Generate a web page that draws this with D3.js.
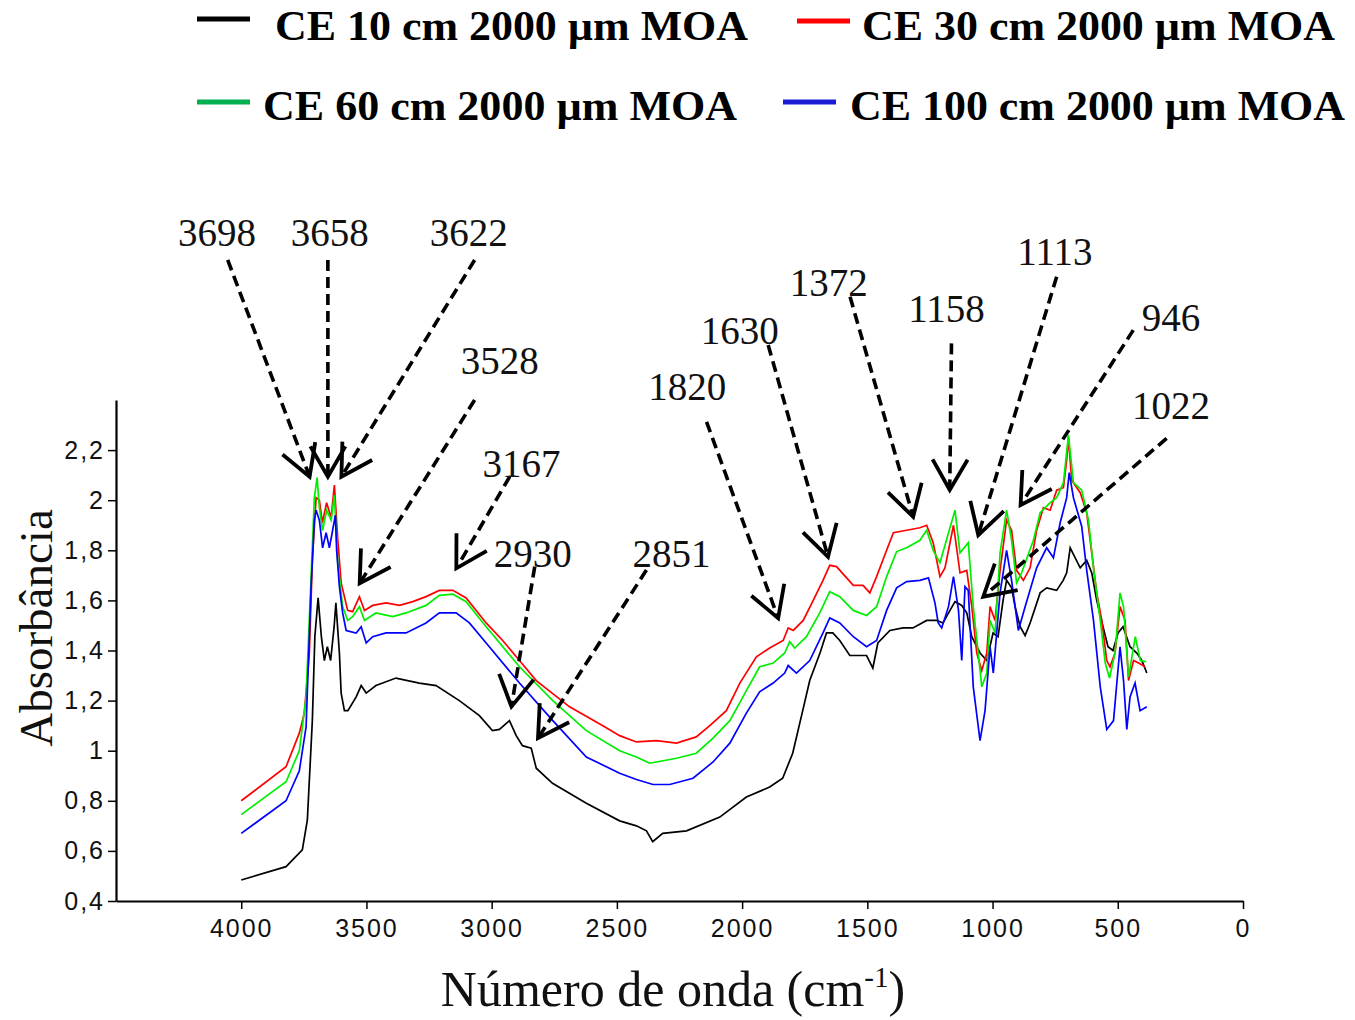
<!DOCTYPE html>
<html>
<head>
<meta charset="utf-8">
<script src="https://cdn.jsdelivr.net/npm/d3@7"></script>
<style>
  html, body { margin: 0; padding: 0; background: #fff; }
  svg { display: block; }
</style>
</head>
<body>
<svg id="chart" width="1355" height="1020"></svg>
<script>
// ---------------- DATA ----------------
const seriesNames = ["CE 10 cm 2000 µm MOA", "CE 30 cm 2000 µm MOA", "CE 60 cm 2000 µm MOA", "CE 100 cm 2000 µm MOA"];

// [wavenumber (cm-1), absorbance]
const ce10 = [[4000,0.484],[3821,0.537],[3756,0.604],[3736,0.723],[3716,1.12],[3706,1.455],[3693,1.61],[3680,1.455],[3668,1.36],[3656,1.415],[3643,1.36],[3629,1.495],[3622,1.59],[3608,1.39],[3601,1.23],[3588,1.16],[3574,1.16],[3541,1.215],[3521,1.26],[3501,1.23],[3462,1.26],[3382,1.29],[3289,1.27],[3222,1.26],[3129,1.20],[3049,1.14],[2997,1.08],[2969,1.085],[2929,1.12],[2902,1.06],[2877,1.02],[2842,1.01],[2822,0.93],[2757,0.87],[2622,0.79],[2489,0.72],[2422,0.70],[2382,0.68],[2357,0.637],[2317,0.67],[2222,0.68],[2089,0.735],[1983,0.815],[1890,0.855],[1838,0.89],[1798,0.99],[1758,1.16],[1730,1.28],[1689,1.39],[1663,1.47],[1638,1.47],[1610,1.44],[1570,1.38],[1503,1.38],[1478,1.33],[1458,1.43],[1410,1.48],[1358,1.49],[1318,1.49],[1263,1.52],[1223,1.52],[1198,1.51],[1170,1.56],[1150,1.595],[1123,1.58],[1103,1.55],[1083,1.455],[1063,1.415],[1050,1.39],[1023,1.36],[998,1.47],[978,1.455],[958,1.60],[944,1.68],[924,1.65],[910,1.575],[890,1.495],[870,1.46],[850,1.51],[810,1.63],[784,1.65],[744,1.64],[718,1.68],[704,1.71],[690,1.81],[670,1.77],[650,1.73],[624,1.76],[604,1.71],[584,1.60],[559,1.495],[539,1.415],[519,1.40],[499,1.47],[479,1.495],[451,1.415],[424,1.39],[404,1.36],[384,1.31]];

const ce30 = [[4000,0.80],[3821,0.936],[3768,1.07],[3748,1.15],[3728,1.39],[3716,1.76],[3701,2.01],[3688,2.00],[3676,1.91],[3659,1.99],[3641,1.93],[3628,2.06],[3615,1.85],[3601,1.67],[3575,1.56],[3555,1.555],[3528,1.615],[3508,1.56],[3475,1.58],[3422,1.59],[3368,1.58],[3315,1.595],[3262,1.615],[3209,1.64],[3155,1.64],[3102,1.61],[3022,1.51],[2956,1.44],[2889,1.36],[2822,1.28],[2689,1.175],[2556,1.10],[2489,1.06],[2422,1.035],[2342,1.04],[2262,1.03],[2183,1.055],[2129,1.10],[2063,1.16],[2009,1.27],[1943,1.375],[1890,1.41],[1836,1.44],[1816,1.49],[1796,1.48],[1756,1.52],[1716,1.60],[1677,1.68],[1650,1.74],[1623,1.735],[1556,1.66],[1517,1.66],[1490,1.63],[1463,1.695],[1423,1.80],[1396,1.87],[1343,1.88],[1290,1.89],[1263,1.90],[1237,1.83],[1210,1.695],[1190,1.73],[1156,1.90],[1130,1.71],[1103,1.72],[1083,1.575],[1063,1.39],[1043,1.32],[1023,1.39],[1010,1.575],[990,1.52],[970,1.72],[944,1.92],[924,1.88],[904,1.72],[877,1.68],[850,1.73],[824,1.88],[797,1.97],[770,1.96],[744,2.04],[717,2.05],[704,2.16],[697,2.25],[684,2.08],[650,2.03],[624,1.95],[604,1.79],[584,1.63],[564,1.52],[544,1.36],[531,1.335],[511,1.39],[491,1.575],[471,1.52],[457,1.28],[437,1.36],[417,1.35],[391,1.335]];

const ce60 = [[4000,0.745],[3821,0.876],[3768,1.00],[3741,1.215],[3721,1.695],[3708,2.01],[3697,2.09],[3688,1.97],[3675,1.88],[3659,1.96],[3641,1.92],[3628,2.02],[3615,1.76],[3595,1.575],[3575,1.52],[3555,1.535],[3528,1.575],[3508,1.52],[3462,1.55],[3395,1.535],[3342,1.55],[3262,1.58],[3209,1.62],[3155,1.625],[3102,1.595],[3022,1.495],[2889,1.335],[2756,1.20],[2622,1.08],[2489,1.00],[2422,0.975],[2369,0.95],[2262,0.97],[2183,0.99],[2116,1.05],[2049,1.12],[1983,1.24],[1930,1.335],[1876,1.35],[1830,1.39],[1810,1.435],[1790,1.41],[1743,1.455],[1690,1.55],[1650,1.635],[1610,1.615],[1556,1.56],[1503,1.54],[1463,1.575],[1423,1.695],[1383,1.795],[1343,1.81],[1290,1.84],[1263,1.88],[1237,1.80],[1210,1.75],[1150,1.96],[1130,1.79],[1097,1.83],[1077,1.575],[1043,1.255],[1023,1.31],[1010,1.52],[990,1.47],[970,1.79],[944,1.96],[924,1.84],[904,1.67],[884,1.71],[837,1.84],[810,1.95],[770,1.99],[744,2.01],[717,2.07],[697,2.26],[677,2.07],[644,2.04],[617,1.92],[597,1.73],[570,1.52],[550,1.35],[533,1.29],[511,1.39],[491,1.63],[477,1.575],[457,1.295],[430,1.455],[410,1.36],[386,1.355]];

const ce100 = [[4000,0.67],[3821,0.80],[3768,0.92],[3741,1.095],[3721,1.655],[3708,1.92],[3701,1.96],[3688,1.92],[3675,1.81],[3661,1.87],[3648,1.81],[3635,1.88],[3624,1.94],[3619,1.80],[3608,1.655],[3595,1.55],[3581,1.48],[3541,1.47],[3521,1.495],[3501,1.43],[3475,1.455],[3422,1.47],[3342,1.47],[3262,1.51],[3209,1.55],[3142,1.55],[3089,1.51],[3022,1.43],[2889,1.27],[2756,1.12],[2622,0.975],[2489,0.91],[2422,0.885],[2356,0.865],[2289,0.865],[2196,0.89],[2116,0.955],[2049,1.03],[1983,1.15],[1930,1.235],[1876,1.27],[1830,1.31],[1816,1.34],[1783,1.31],[1730,1.36],[1677,1.47],[1650,1.53],[1610,1.51],[1556,1.455],[1503,1.415],[1463,1.44],[1423,1.56],[1383,1.65],[1343,1.675],[1290,1.68],[1256,1.69],[1230,1.59],[1217,1.51],[1203,1.49],[1176,1.575],[1156,1.695],[1136,1.56],[1123,1.36],[1110,1.655],[1097,1.64],[1077,1.255],[1050,1.04],[1030,1.16],[1010,1.415],[997,1.31],[970,1.63],[944,1.80],[924,1.68],[897,1.48],[870,1.575],[824,1.73],[784,1.81],[757,1.77],[730,1.91],[704,2.01],[694,2.11],[677,2.01],[644,1.895],[624,1.72],[597,1.52],[570,1.255],[544,1.085],[517,1.12],[491,1.415],[477,1.28],[464,1.085],[451,1.215],[431,1.27],[411,1.16],[384,1.175]];

const xTicks = [4000, 3500, 3000, 2500, 2000, 1500, 1000, 500, 0];
const yTicks = [0.4, 0.6, 0.8, 1.0, 1.2, 1.4, 1.6, 1.8, 2.0, 2.2];

// Band annotations: label, label position, arrow start and arrow tip (wavenumber, absorbance)
const annLabels = ["3698", "3658", "3622", "3528", "3167", "2930", "2851", "1820", "1630", "1372", "1158", "1113", "946", "1022"];
const annLabelPos = [[4097,3.071],[3647,3.071],[3092,3.071],[2968,2.560],[2881,2.147],[2836,1.788],[2282,1.788],[2219,2.453],[2009,2.680],[1654,2.869],[1184,2.766],[751,2.992],[287,2.729],[287,2.380]];
const annStart = [[4054,2.959],[3654,2.959],[3068,2.959],[3068,2.400],[2928,2.094],[2828,1.735],[2382,1.721],[2142,2.313],[1896,2.620],[1569,2.812],[1164,2.626],[744,2.892],[438,2.679],[305,2.247]];
const annTip = [[3727,2.094],[3654,2.094],[3600,2.094],[3527,1.668],[3141,1.728],[2921,1.176],[2815,1.050],[1856,1.529],[1657,1.774],[1317,1.934],[1171,2.041],[1057,1.861],[888,1.981],[1037,1.615]];

// ---------------- DRAW ----------------
const svg = d3.select("#chart");
const x = d3.scaleLinear().domain([4500, 0]).range([116, 1243]);
const y = d3.scaleLinear().domain([0.4, 2.4]).range([901, 400]);

const lineColors = ["#000000", "#ff0000", "#00ee00", "#0000ff"];
const legendColors = ["#000000", "#ff0000", "#00b050", "#1c1cd6"];
const allSeries = [ce10, ce30, ce60, ce100];

// axes
const gx = svg.append("g").attr("transform", "translate(0,901)")
  .call(d3.axisBottom(x).tickValues(xTicks).tickSize(8).tickSizeOuter(0).tickFormat(d => String(d)));
gx.select(".domain").attr("stroke", "#000").attr("stroke-width", 2.2);
gx.selectAll(".tick line").attr("stroke", "#000").attr("stroke-width", 1.5);
gx.selectAll(".tick text")
  .attr("y", 18).attr("dy", "0.71em")
  .style("font-family", "'Liberation Sans', Arial, sans-serif")
  .style("font-size", "25px").style("letter-spacing", "2px").attr("fill", "#111");

const gy = svg.append("g").attr("transform", "translate(116,0)")
  .call(d3.axisLeft(y).tickValues(yTicks).tickSize(8).tickSizeOuter(0)
    .tickFormat(d => String(+d.toFixed(1)).replace(".", ",")));
gy.select(".domain").attr("stroke", "#000").attr("stroke-width", 2.2);
gy.selectAll(".tick line").attr("stroke", "#000").attr("stroke-width", 1.5);
gy.selectAll(".tick text")
  .attr("x", -11)
  .style("font-family", "'Liberation Sans', Arial, sans-serif")
  .style("font-size", "25px").style("letter-spacing", "2px").attr("fill", "#111");

// series lines
const line = d3.line().x(d => x(d[0])).y(d => y(d[1]));
allSeries.forEach((s, i) => {
  svg.append("path").datum(s)
    .attr("d", line)
    .attr("fill", "none")
    .attr("stroke", lineColors[i])
    .attr("stroke-width", 1.7)
    .attr("stroke-linejoin", "miter");
});

// annotations
const ann = svg.append("g");
annLabels.forEach((lab, i) => {
  const x0 = x(annStart[i][0]), y0 = y(annStart[i][1]);
  const x1 = x(annTip[i][0]), y1 = y(annTip[i][1]);
  ann.append("line")
    .attr("x1", x0).attr("y1", y0).attr("x2", x1).attr("y2", y1)
    .attr("stroke", "#000").attr("stroke-width", 3.6)
    .attr("stroke-dasharray", "11,6");
  const ang = Math.atan2(y0 - y1, x0 - x1);
  const L = 35, spread = Math.PI / 6;
  const p = [
    [x1 + L * Math.cos(ang - spread), y1 + L * Math.sin(ang - spread)],
    [x1, y1],
    [x1 + L * Math.cos(ang + spread), y1 + L * Math.sin(ang + spread)]
  ];
  ann.append("path")
    .attr("d", d3.line()(p))
    .attr("fill", "none").attr("stroke", "#000").attr("stroke-width", 3.8)
    .attr("stroke-linejoin", "miter");
  ann.append("text")
    .attr("x", x(annLabelPos[i][0])).attr("y", y(annLabelPos[i][1]))
    .attr("dy", "0.35em")
    .attr("text-anchor", "middle")
    .style("font-family", "'Liberation Serif', 'Times New Roman', serif")
    .style("font-size", "39px")
    .attr("fill", "#111")
    .text(lab);
});

// axis titles
svg.append("text")
  .attr("transform", "translate(52,628) rotate(-90)")
  .attr("text-anchor", "middle")
  .style("font-family", "'Liberation Serif', 'Times New Roman', serif")
  .style("font-size", "47px")
  .attr("fill", "#111")
  .text("Absorbância");

const xt = svg.append("text")
  .attr("x", 673).attr("y", 1006)
  .attr("text-anchor", "middle")
  .style("font-family", "'Liberation Serif', 'Times New Roman', serif")
  .style("font-size", "50px")
  .attr("fill", "#111");
xt.append("tspan").text("Número de onda (cm");
xt.append("tspan").attr("dy", -19).style("font-size", "29px").text("-1");
xt.append("tspan").attr("dy", 19).text(")");

// legend
const legendPos = [
  { lx: 197, lw: 53, ly: 19, tx: 275, ty: 40, tl: 473 },
  { lx: 797, lw: 53, ly: 21, tx: 862, ty: 40, tl: 473 },
  { lx: 197, lw: 53, ly: 102, tx: 263, ty: 120, tl: 474 },
  { lx: 783, lw: 53, ly: 102, tx: 850, ty: 120, tl: 495 }
];
seriesNames.forEach((name, i) => {
  const p = legendPos[i];
  svg.append("line")
    .attr("x1", p.lx).attr("x2", p.lx + p.lw).attr("y1", p.ly).attr("y2", p.ly)
    .attr("stroke", legendColors[i]).attr("stroke-width", 5);
  svg.append("text")
    .attr("x", p.tx).attr("y", p.ty)
    .attr("textLength", p.tl).attr("lengthAdjust", "spacingAndGlyphs")
    .style("font-family", "'Liberation Serif', 'Times New Roman', serif")
    .style("font-weight", "bold")
    .style("font-size", "43px")
    .attr("fill", "#000")
    .text(name);
});
</script>
</body>
</html>
